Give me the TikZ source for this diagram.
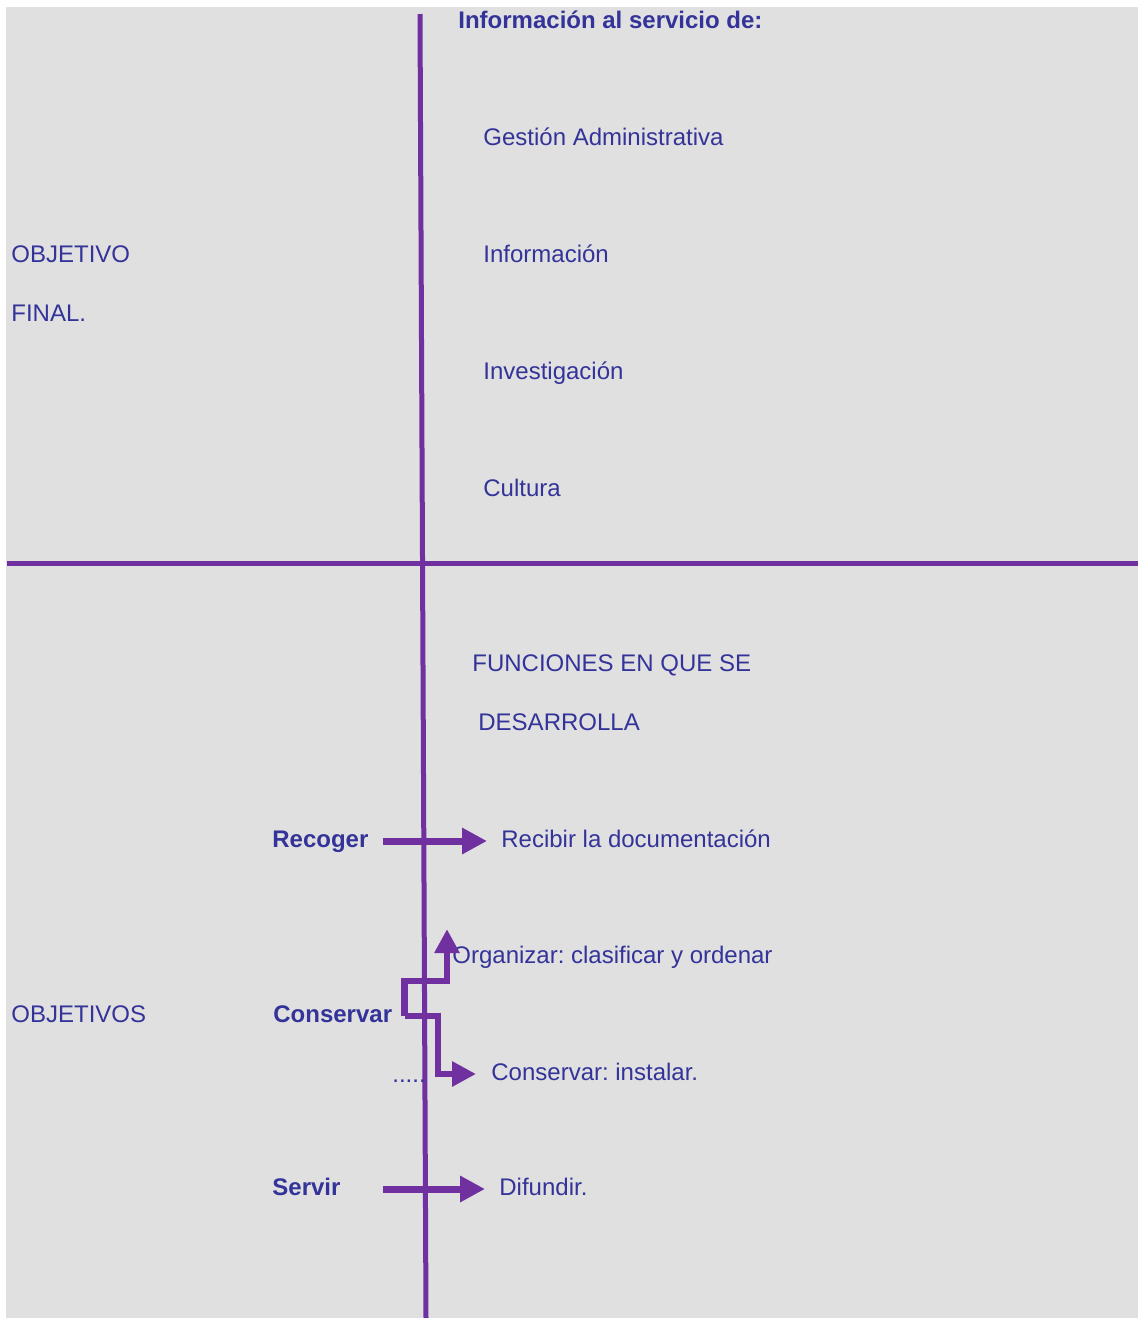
\documentclass[tikz,border=0pt]{standalone}
\usepackage{fontspec}
\setmainfont{Liberation Sans}
\usepackage{xcolor}
\usepackage{tikz}
\usetikzlibrary{arrows.meta}
\frenchspacing
\definecolor{texto}{RGB}{51,51,153}
\definecolor{morado}{RGB}{112,48,160}
\definecolor{gris}{RGB}{224,224,224}
\tikzset{txt/.style={anchor=west,inner sep=0pt,text height=9pt,text depth=2.5pt,text=texto,font=\fontsize{12pt}{14pt}\selectfont},
  negr/.style={txt,font=\fontsize{12pt}{14pt}\selectfont\bfseries},
  eje/.style={draw=morado,line width=2.5pt},
  flecha/.style={draw=morado,line width=3.5pt,-{Triangle[length=12.5pt,width=12.5pt]},shorten <=7pt,shorten >=7pt},
  flechab/.style={draw=morado,line width=3.3pt,-{Triangle[length=12pt,width=12pt]}},
  >=Triangle}
\def\cn#1#2{\draw[flecha] (#1) to (#2);}
\newcommand{\etiq}[4][]{\node[txt,#1] (#2) at (#3) {#4};}

\begin{document}
\begin{tikzpicture}[x=0.5pt,y=-0.5pt]
    \useasboundingbox (0,0) rectangle (1138,1318);
    \fill[gris] (6,7) rectangle (1138,1318);

    % ejes
    \coordinate (arr) at (420,14);
    \coordinate (abj) at (426,1318);
    \coordinate (izq) at (7,563);
    \coordinate (der) at (1138,563);
    \draw[eje] (izq) -- (der);
    \draw[eje] (arr) -- (abj);

    % parte de arriba
    \etiq[negr]{serv}{458,22}{Información al servicio de:}
    \etiq{gest}{483,139}{Gestión Administrativa}
    \etiq{info}{483,256}{Información}
    \etiq{inv}{483,373}{Investigación}
    \etiq{cult}{483,490}{Cultura}
    \etiq{obj}{11,256}{OBJETIVO}
    \etiq{fin}{11,315}{FINAL.}

    % parte de abajo
    \etiq{func}{472,665}{FUNCIONES EN QUE SE}
    \etiq{desa}{478,724}{DESARROLLA}
    \etiq{objs}{11,1016}{OBJETIVOS}

    \etiq[negr]{rec}{272,841}{Recoger}
    \etiq{recib}{501,841}{Recibir la documentación}
    \cn{rec}{recib}

    \etiq[negr]{cons}{273,1016}{Conservar}
    \etiq{org}{452,957}{Organizar: clasificar y ordenar}
    \etiq{inst}{491,1074}{Conservar: instalar.}
    \etiq{pts}{392,1076}{.....}
    \coordinate (orgp) at ([xshift=-2.5pt,yshift=8pt]org.north west);
    \coordinate (instp) at ([xshift=-7.5pt]inst.west);
    \draw[flechab] ([xshift=6pt]cons.east) -- ++(0,-35) -| (orgp);
    \draw[flechab] ([xshift=6pt]cons.east) -| ([xshift=-19pt]instp) -- (instp);

    \etiq[negr]{serv2}{272,1189}{Servir}
    \etiq{dif}{499,1189}{Difundir.}
    \draw[flecha,shorten <=21pt] (serv2) -- (dif);

\end{tikzpicture}
\end{document}
